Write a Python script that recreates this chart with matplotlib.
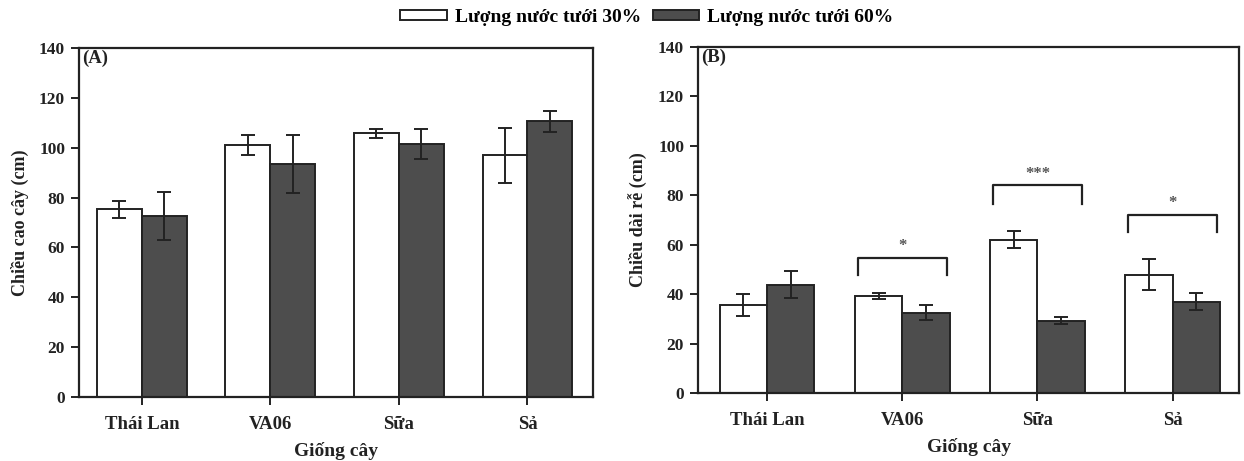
import matplotlib
matplotlib.use("Agg")
import matplotlib.pyplot as plt
import numpy as np
from matplotlib.patches import Patch

categories = ["Thái Lan", "VA06", "Sữa", "Sả"]
series_names = ["Lượng nước tưới 30%", "Lượng nước tưới 60%"]

height_30 = [75.3, 101.1, 105.9, 97.0]
height_30_err = [3.5, 3.9, 1.8, 11.0]
height_60 = [72.6, 93.4, 101.5, 110.6]
height_60_err = [9.7, 11.7, 6.2, 4.2]

root_30 = [35.6, 39.3, 62.1, 47.9]
root_30_err = [4.3, 1.3, 3.5, 6.3]
root_60 = [43.8, 32.5, 29.3, 36.9]
root_60_err = [5.5, 3.1, 1.4, 3.4]

# significance: (category index, bracket top, leg bottom, label)
root_sig = [(1, 54.8, 47.7, "*"), (2, 84.0, 76.5, "***"), (3, 72.2, 65.1, "*")]

plt.rcParams['font.family'] = ['Liberation Serif', 'DejaVu Serif']
plt.rcParams['font.weight'] = 'bold'

fig = plt.figure(figsize=(12.44, 4.61), dpi=100)
axA = fig.add_axes([0.0635, 0.1388, 0.4132, 0.757])
axB = fig.add_axes([0.5611, 0.1475, 0.4349, 0.7505])

ink = "#222222"
dark = "#4d4d4d"
bw = 0.35

def draw(ax, v30, e30, v60, e60, ylabel, tag, xlim):
    x = np.arange(len(categories))
    ekw = dict(ecolor=ink, elinewidth=1.4, capsize=5, capthick=1.4)
    ax.bar(x - bw / 2, v30, bw, color="white", edgecolor=ink, linewidth=1.4, yerr=e30, error_kw=ekw)
    ax.bar(x + bw / 2, v60, bw, color=dark, edgecolor=ink, linewidth=1.4, yerr=e60, error_kw=ekw)
    ax.set_xlim(*xlim)
    ax.set_ylim(0, 140)
    ax.set_yticks(range(0, 141, 20))
    ax.set_xticks(x)
    ax.set_xticklabels(categories, fontsize=13.5, fontweight='bold')
    for lab in ax.get_yticklabels():
        lab.set_fontsize(12.5)
        lab.set_fontweight('bold')
    ax.tick_params(axis='both', direction='out', length=6, width=1.4, colors=ink, labelcolor=ink)
    ax.tick_params(axis='x', pad=8)
    ax.tick_params(axis='y', pad=4)
    for s in ax.spines.values():
        s.set_linewidth(1.6)
        s.set_color(ink)
    ax.set_ylabel(ylabel, fontsize=13, fontweight='bold', color=ink, labelpad=7)
    ax.set_xlabel("Giống cây", fontsize=14, fontweight='bold', color=ink, labelpad=6)
    ax.text(0.006, 0.995, tag, transform=ax.transAxes, ha='left', va='top',
            fontsize=13.5, fontweight='bold', color=ink)

draw(axA, height_30, height_30_err, height_60, height_60_err, "Chiều cao cây (cm)", "(A)", (-0.49, 3.51))
draw(axB, root_30, root_30_err, root_60, root_60_err, "Chiều dài rễ (cm)", "(B)", (-0.51, 3.49))

for i, top, bottom, lab in root_sig:
    xl, xr = i - 0.33, i + 0.33
    axB.plot([xl, xl, xr, xr], [bottom, top, top, bottom], color=ink, linewidth=1.6)
    axB.text(i, top + 1.5, lab, ha='center', va='bottom', fontsize=12, color="#555555")

handles = [Patch(facecolor="white", edgecolor=ink, linewidth=1.4),
           Patch(facecolor=dark, edgecolor=ink, linewidth=1.4)]
fig.legend(handles, series_names, loc='center', bbox_to_anchor=(0.52, 0.962), ncol=2,
           frameon=False, prop=dict(family='Liberation Serif', weight='bold', size=14),
           handlelength=2.4, handleheight=0.45, columnspacing=0.6, handletextpad=0.4,
           borderaxespad=0, borderpad=0)

fig.savefig("out.png", dpi=100, facecolor="white")
